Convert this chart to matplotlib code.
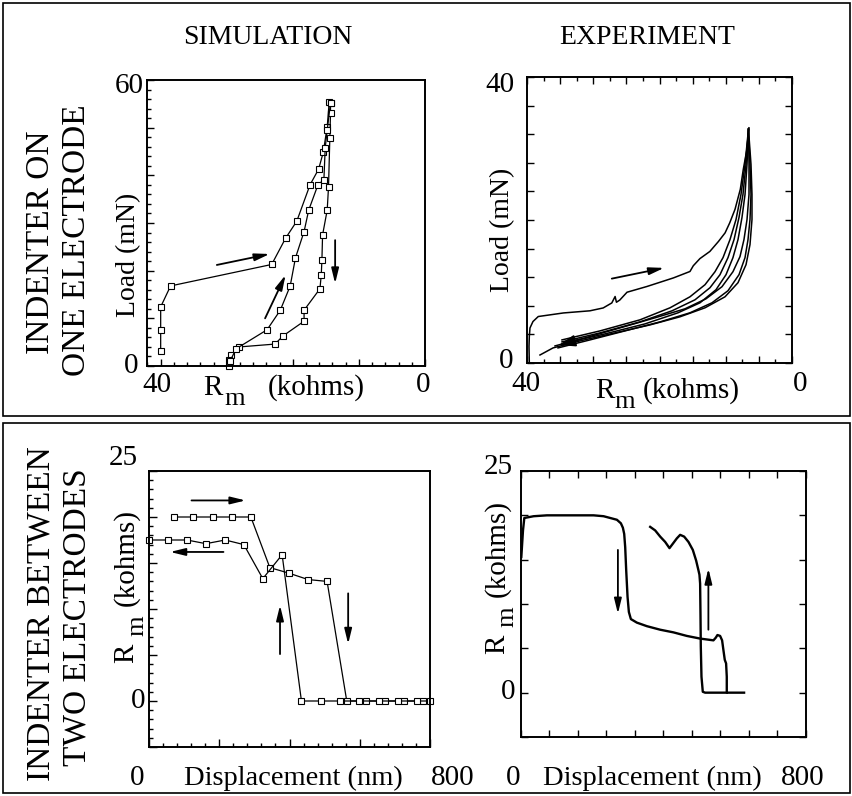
import matplotlib
matplotlib.use('Agg')
import matplotlib.pyplot as plt
from matplotlib.ticker import MultipleLocator
from matplotlib.patches import Rectangle

# ---------------- data ----------------
# Simulation, indenter on one electrode: resistance (kohm) vs load (mN)
sim1_load_R = [40.0, 40.0, 40.0, 38.5, 23.2, 21.1, 19.4, 17.4, 16.1, 15.4, 14.8, 14.5]
sim1_load_L = [3.1, 7.6, 12.4, 16.8, 21.3, 26.8, 30.4, 38.0, 41.3, 44.8, 50.2, 55.3]
sim1_unload_R = [14.3, 14.3, 14.4, 14.6, 14.8, 15.5, 15.6, 15.7, 15.9, 18.3, 18.3, 21.5, 22.7, 28.1, 29.4, 29.6]
sim1_unload_L = [55.2, 53.0, 47.9, 37.6, 32.7, 27.5, 22.2, 19.1, 16.2, 11.7, 9.4, 6.3, 4.6, 4.0, 2.3, 1.3]
sim1_reload_R = [29.6, 29.5, 28.6, 23.9, 21.9, 20.4, 19.6, 18.3, 17.6, 16.2, 15.3, 15.1, 14.8, 14.3]
sim1_reload_L = [0.0, 1.0, 3.6, 7.6, 11.7, 16.8, 22.7, 28.2, 32.7, 38.0, 39.1, 45.8, 49.5, 55.2]

# Experiment, indenter on one electrode
exp1_first_R = [39.65, 39.7, 39.65, 39.55, 39.1, 38.3, 34.5, 30.5, 28.5, 27.2, 26.7, 26.5, 26.0, 24.9,
                21.9, 17.9, 15.4, 14.9, 13.9, 12.4, 11.1, 10.1, 9.4, 8.6, 7.8, 7.35, 6.8, 6.5]
exp1_first_L = [0.0, 2.3, 3.7, 4.9, 5.8, 6.5, 7.0, 7.3, 7.7, 8.4, 9.3, 8.5, 8.8, 9.9,
                10.7, 11.9, 12.8, 13.6, 14.6, 15.6, 17.0, 18.2, 19.6, 21.5, 24.3, 27.1, 29.9, 32.9]
exp1_load_a_R = [34.72, 28.98, 22.94, 18.41, 15.40, 13.13, 11.62, 10.41, 9.36, 8.45, 7.70, 7.09, 6.57]
exp1_load_a_L = [3.23, 4.49, 6.04, 7.72, 9.26, 10.95, 12.77, 14.74, 17.26, 20.07, 23.58, 27.79, 32.70]
exp1_load_b_R = [34.72, 28.98, 22.94, 18.11, 14.64, 12.38, 10.87, 9.66, 8.75, 8.00, 7.40, 6.94, 6.57]
exp1_load_b_L = [2.95, 4.21, 5.75, 7.30, 8.84, 10.53, 12.35, 14.74, 17.26, 20.35, 23.58, 27.79, 32.70]
exp1_load_c_R = [34.26, 28.23, 22.19, 17.21, 13.89, 11.47, 9.96, 8.91, 8.15, 7.55, 7.09, 6.79, 6.57]
exp1_load_c_L = [2.81, 4.07, 5.47, 7.02, 8.42, 10.25, 12.35, 14.74, 17.26, 20.35, 23.58, 27.79, 32.70]
exp1_unload_a_R = [6.57, 6.49, 6.49, 6.79, 7.25, 7.85, 8.91, 10.57, 12.98, 16.15, 20.68, 25.96, 31.24, 35.77]
exp1_unload_a_L = [32.70, 27.79, 23.58, 20.07, 17.26, 14.88, 12.77, 10.67, 8.98, 7.58, 6.32, 4.91, 3.51, 2.39]
exp1_unload_b_R = [6.57, 6.34, 6.19, 6.34, 6.64, 7.09, 8.00, 9.66, 12.08, 15.40, 19.92, 25.21, 30.49, 35.32]
exp1_unload_b_L = [32.70, 27.79, 23.58, 20.07, 17.26, 14.74, 12.35, 10.11, 8.42, 7.02, 5.75, 4.49, 3.23, 2.11]
exp1_unload_c_R = [6.57, 6.19, 6.04, 6.04, 6.34, 6.94, 8.15, 10.11, 13.13, 16.91, 21.43, 26.72, 32.0, 36.07, 38.04]
exp1_unload_c_L = [32.70, 27.79, 23.58, 20.07, 16.56, 13.75, 11.23, 9.26, 7.72, 6.46, 5.33, 4.21, 3.09, 2.11, 1.12]

# Simulation, indenter between two electrodes: displacement (nm) vs resistance (kohm)
sim2_fwd_x = [71, 126, 181, 236, 290, 344, 398, 453, 507, 563, 617, 672, 727, 781]
sim2_fwd_R = [20.0, 20.0, 20.0, 20.0, 20.0, 14.5, 13.9, 13.2, 13.0, 0.0, 0.0, 0.0, 0.0, 0.0]
sim2_rev_x = [800, 764, 710, 656, 599, 544, 489, 434, 379, 324, 270, 217, 162, 108, 53, 0]
sim2_rev_R = [0.0, 0.0, 0.0, 0.0, 0.0, 0.0, 0.0, 0.0, 15.9, 13.3, 17.0, 17.5, 17.1, 17.5, 17.5, 17.5]

# Experiment, indenter between two electrodes
exp2_in_x = [0.9, 5.6, 9.3, 35.5, 72.9, 119.6, 166.4, 203.7, 231.8, 250.5, 269.2, 280.4, 286.0, 289.7,
             292.5, 295.3, 299.1, 302.8, 308.4, 325.2, 353.3, 390.7, 428.0, 465.4, 502.8, 540.2,
             546.7, 551.4, 558.9, 564.5, 568.2, 572.0, 575.7, 577.6, 577.6, 626.2]
exp2_in_R = [15.3, 18.3, 19.7, 19.9, 20.0, 20.0, 20.0, 20.0, 19.9, 19.7, 19.5, 19.1, 18.6, 17.9,
             16.4, 13.8, 10.8, 9.1, 8.3, 7.9, 7.5, 7.1, 6.8, 6.4, 6.1, 5.9,
             6.2, 6.5, 6.4, 5.9, 4.8, 3.7, 3.3, 1.8, 0.0, 0.0]
exp2_out_x = [362.6, 376.6, 390.7, 404.7, 416.8, 426.2, 437.4, 446.7, 458.0, 470.1, 482.3, 491.6,
              498.1, 500.9, 502.8, 503.8, 504.7, 506.6, 510.3, 516.8, 577.6]
exp2_out_R = [18.7, 18.3, 17.6, 17.0, 16.3, 16.8, 17.4, 17.8, 17.6, 17.0, 16.1, 14.9,
              13.8, 13.3, 12.3, 8.9, 5.2, 1.8, 0.1, 0.0, 0.0]

# ---------------- figure ----------------
W, H = 853, 796
plt.rcParams['font.family'] = ['Liberation Serif', 'DejaVu Serif']

fig = plt.figure(figsize=(W / 100, H / 100), dpi=100)
FS = 20      # axis titles
NFS = 21     # end-of-axis numbers
GFS = 24     # row labels


def box(l, t, r, b):
    return [l / W, 1 - b / H, (r - l) / W, (b - t) / H]


def ftext(x, y, s, **kw):
    kw.setdefault('ha', 'center')
    kw.setdefault('va', 'center')
    kw.setdefault('fontsize', FS)
    fig.text(x / W, 1 - y / H, s, **kw)


def rm_label(r_at, m_at, k_at, vertical=False, size=21, msize=19):
    """'R' with a large lowered 'm' subscript, followed by '(kohms)'.
    Each position is (x, y) of the start of the piece's baseline, in pixels."""
    rot = 90 if vertical else 0
    for (x, y), s, fs in [(r_at, 'R', size), (m_at, 'm', msize), (k_at, '(kohms)', size)]:
        fig.text(x / W, 1 - y / H, s, fontsize=fs, rotation=rot,
                 rotation_mode='anchor', ha='left', va='baseline')


def style(ax, top=False, right=False, maj=5, mino=3):
    for s in ax.spines.values():
        s.set_linewidth(1.4)
    ax.tick_params(which='both', direction='in', top=top, right=right,
                   labelleft=False, labelbottom=False, width=1.0)
    ax.tick_params(which='major', length=maj)
    ax.tick_params(which='minor', length=mino)


def arrow(ax, tail, head, hl=0.9, hw=0.22, lw=1.3):
    ax.annotate('', xy=head, xytext=tail,
                arrowprops=dict(arrowstyle=f'-|>,head_length={hl},head_width={hw}',
                                lw=lw, color='black', shrinkA=0, shrinkB=0))


# group frames
fig.patches.append(Rectangle((3 / W, 1 - 416 / H), 847 / W, 413 / H, transform=fig.transFigure,
                             fill=False, lw=1.2, ec='black'))
fig.patches.append(Rectangle((3 / W, 1 - 793 / H), 847 / W, 370 / H, transform=fig.transFigure,
                             fill=False, lw=1.2, ec='black'))

mk = dict(marker='s', ms=5, mfc='white', mec='black', mew=0.8, color='black', lw=0.9, clip_on=False)

# --- simulation, one electrode ---
ax1 = fig.add_axes(box(147, 80, 425, 366))
ax1.plot(sim1_load_R, sim1_load_L, **mk)
ax1.plot(sim1_unload_R, sim1_unload_L, **mk)
ax1.plot(sim1_reload_R, sim1_reload_L, **mk)
ax1.set_xlim(42.07, 0)
ax1.set_ylim(0, 60)
ax1.xaxis.set_major_locator(MultipleLocator(10))
ax1.xaxis.set_minor_locator(MultipleLocator(2))
ax1.yaxis.set_major_locator(MultipleLocator(10))
ax1.yaxis.set_minor_locator(MultipleLocator(2))
style(ax1, maj=5, mino=3)
arrow(ax1, (31.5, 21.2), (23.5, 23.5))
arrow(ax1, (24.2, 10.0), (21.1, 19.1))
arrow(ax1, (13.6, 26.4), (13.6, 17.3))

# --- experiment, one electrode ---
ax2 = fig.add_axes(box(527, 77, 792, 363))
elw = 1.1
ax2.plot(exp1_first_R, exp1_first_L, color='black', lw=elw)
for r, l in [(exp1_load_a_R, exp1_load_a_L), (exp1_load_b_R, exp1_load_b_L),
             (exp1_load_c_R, exp1_load_c_L), (exp1_unload_a_R, exp1_unload_a_L),
             (exp1_unload_b_R, exp1_unload_b_L), (exp1_unload_c_R, exp1_unload_c_L)]:
    ax2.plot(r, l, color='black', lw=elw)
ax2.set_xlim(40, 0)
ax2.set_ylim(0, 40)
ax2.xaxis.set_major_locator(MultipleLocator(5))
ax2.xaxis.set_minor_locator(MultipleLocator(2.5))
ax2.yaxis.set_major_locator(MultipleLocator(4))
style(ax2, top=True, right=True, maj=5, mino=3)
arrow(ax2, (27.2, 11.8), (19.3, 13.3))
arrow(ax2, (32.0, 3.3), (35.2, 2.5), hl=1.0, hw=0.35)

# --- simulation, two electrodes ---
ax3 = fig.add_axes(box(149, 471, 430, 747))
ax3.plot(sim2_fwd_x, sim2_fwd_R, **mk)
ax3.plot(sim2_rev_x, sim2_rev_R, **mk)
ax3.set_xlim(0, 800)
ax3.set_ylim(-5, 25)
ax3.xaxis.set_major_locator(MultipleLocator(200))
ax3.xaxis.set_minor_locator(MultipleLocator(40))
ax3.yaxis.set_major_locator(MultipleLocator(5))
ax3.yaxis.set_minor_locator(MultipleLocator(1))
style(ax3, maj=6, mino=3)
arrow(ax3, (121, 21.8), (275, 21.8))
arrow(ax3, (212, 16.2), (60, 16.2))
arrow(ax3, (373, 5.1), (373, 10.4))
arrow(ax3, (567, 11.7), (567, 6.2))

# --- experiment, two electrodes ---
ax4 = fig.add_axes(box(521, 471, 806, 737))
ax4.plot(exp2_in_x, exp2_in_R, color='black', lw=1.7)
ax4.plot(exp2_out_x, exp2_out_R, color='black', lw=1.7)
ax4.set_xlim(0, 800)
ax4.set_ylim(-5, 25)
ax4.xaxis.set_major_locator(MultipleLocator(80))
ax4.yaxis.set_major_locator(MultipleLocator(5))
style(ax4, top=True, right=True, maj=5, mino=3)
arrow(ax4, (272, 16.1), (272, 8.9))
arrow(ax4, (526, 7.1), (526, 14.0))

# ---------------- text ----------------
ftext(268, 38, 'SIMULATION', fontsize=20)
ftext(647, 38, 'EXPERIMENT', fontsize=20)
ftext(41, 242, 'INDENTER ON', rotation=90, fontsize=GFS)
ftext(77, 240, 'ONE ELECTRODE', rotation=90, fontsize=GFS)
ftext(41, 614, 'INDENTER BETWEEN', rotation=90, fontsize=GFS)
ftext(77, 617, 'TWO ELECTRODES', rotation=90, fontsize=GFS)

# panel 1 labels
ftext(129, 86, '60', fontsize=NFS)
ftext(131, 366, '0', fontsize=NFS)
ftext(157, 385, '40', fontsize=NFS)
ftext(423, 385, '0', fontsize=NFS)
ftext(129, 255, 'Load (mN)', rotation=90)
rm_label((203, 395), (224, 405), (268, 395))

# panel 2 labels
ftext(500, 85, '40', fontsize=NFS)
ftext(506, 361, '0', fontsize=NFS)
ftext(526, 384, '40', fontsize=NFS)
ftext(800, 384, '0', fontsize=NFS)
ftext(503, 230, 'Load (mN)', rotation=90)
rm_label((595, 398), (614, 408), (643, 398))

# panel 3 labels
ftext(123, 458, '25', fontsize=NFS)
ftext(138, 701, '0', fontsize=NFS)
rm_label((133, 663), (143, 636), (133, 606), vertical=True)
ftext(137, 778, '0', fontsize=NFS)
ftext(293, 778, 'Displacement (nm)', fontsize=20.5)
ftext(453, 778, '800', fontsize=NFS)

# panel 4 labels
ftext(498, 467, '25', fontsize=NFS)
ftext(508, 692, '0', fontsize=NFS)
rm_label((504, 654), (513, 627), (504, 597), vertical=True)
ftext(513, 778, '0', fontsize=NFS)
ftext(652, 778, 'Displacement (nm)', fontsize=20.5)
ftext(803, 778, '800', fontsize=NFS)

fig.savefig('out.png', dpi=100)
